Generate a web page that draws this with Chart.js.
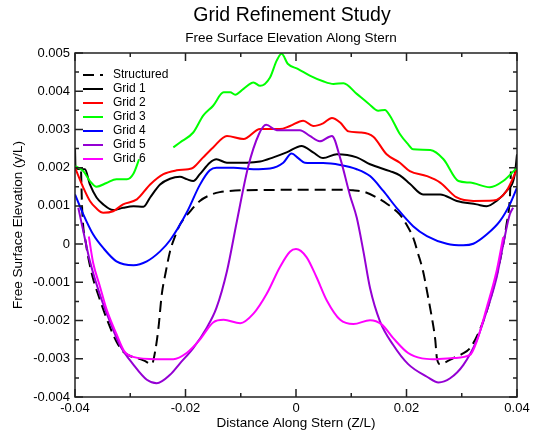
<!DOCTYPE html>
<html>
<head>
<meta charset="utf-8">
<title>Grid Refinement Study</title>
<script src="https://cdn.jsdelivr.net/npm/chart.js@4.4.0/dist/chart.umd.min.js"></script>
<style>
  html, body { margin: 0; padding: 0; background: #fff; }
  #wrap { width: 534px; height: 435px; }
</style>
</head>
<body>
<div id="wrap"><canvas id="elevChart" width="534" height="435"></canvas></div>
<script>
// free surface elevation along the stern, [Z/L, y/L]
const structured = [
  [-0.0389, 0.0019], [-0.0387, 0.0009], [-0.0380, 0.0000], [-0.0370, -0.00075], [-0.0355, -0.00145],
  [-0.0340, -0.00205], [-0.0325, -0.00255], [-0.0313, -0.00281], [-0.0300, -0.00293], [-0.0288, -0.00298],
  [-0.0275, -0.00305], [-0.0261, -0.00314], [-0.0255, -0.00281], [-0.0249, -0.0022], [-0.0243, -0.00132],
  [-0.0236, -0.00075], [-0.0228, -0.00019], [-0.0219, 0.0002], [-0.0210, 0.00051], [-0.0192, 0.00085],
  [-0.0174, 0.00113], [-0.0156, 0.00128], [-0.0138, 0.00136], [-0.0110, 0.0014], [-0.0089, 0.00141],
  [0.0000, 0.00142], [0.0089, 0.00142], [0.0103, 0.00141], [0.0125, 0.00136], [0.0146, 0.00122],
  [0.0165, 0.00105], [0.0182, 0.00086], [0.0191, 0.00072], [0.0200, 0.00051], [0.0212, 0.00017],
  [0.0221, -0.00025], [0.0230, -0.00071], [0.0238, -0.0013], [0.0246, -0.00193], [0.0252, -0.0025],
  [0.0255, -0.00298], [0.0261, -0.00314], [0.0272, -0.00308], [0.0285, -0.00298], [0.0300, -0.00288],
  [0.0315, -0.00272], [0.0331, -0.0023], [0.0345, -0.00176], [0.0358, -0.0011], [0.0369, -0.00045],
  [0.0381, 0.00051], [0.0387, 0.0012], [0.0389, 0.0019]
];

const grid1 = [
  [-0.0400, 0.0025], [-0.0399, 0.00198], [-0.0382, 0.00196], [-0.0373, 0.00156], [-0.0361, 0.00122],
  [-0.0349, 0.00104], [-0.0331, 0.00089], [-0.0313, 0.00095], [-0.0294, 0.00099], [-0.0276, 0.00098],
  [-0.0264, 0.00122], [-0.0246, 0.00156], [-0.0228, 0.00171], [-0.0210, 0.00176], [-0.0198, 0.0017],
  [-0.0186, 0.00165], [-0.0174, 0.00183], [-0.0156, 0.00213], [-0.0144, 0.00222], [-0.0125, 0.00213],
  [-0.0089, 0.00213], [-0.0065, 0.00216], [-0.0041, 0.00227], [-0.0017, 0.0024], [0.0010, 0.00257],
  [0.0031, 0.0024], [0.0049, 0.00225], [0.0074, 0.00235], [0.0110, 0.00227], [0.0134, 0.00209],
  [0.0170, 0.00191], [0.0188, 0.0018], [0.0206, 0.00158], [0.0230, 0.0013], [0.0261, 0.0013],
  [0.0291, 0.00113], [0.0327, 0.00104], [0.0345, 0.00099], [0.0363, 0.00113], [0.0381, 0.00139],
  [0.0396, 0.00183], [0.0400, 0.00235]
];

const grid2 = [
  [-0.0400, 0.0020], [-0.0385, 0.00148], [-0.0373, 0.00113], [-0.0361, 0.00093], [-0.0349, 0.00082],
  [-0.0331, 0.00086], [-0.0313, 0.00104], [-0.0288, 0.00117], [-0.0264, 0.00156], [-0.0240, 0.00183],
  [-0.0216, 0.00193], [-0.0195, 0.00196], [-0.0186, 0.0020], [-0.0168, 0.00227], [-0.0150, 0.00253],
  [-0.0125, 0.00283], [-0.0095, 0.00275], [-0.0065, 0.00301], [-0.0029, 0.00301], [-0.0011, 0.00309],
  [0.0013, 0.00323], [0.0031, 0.00309], [0.0049, 0.00316], [0.0065, 0.0033], [0.0080, 0.00318],
  [0.0095, 0.00295], [0.0116, 0.00292], [0.0140, 0.00281], [0.0164, 0.00235], [0.0188, 0.00213],
  [0.0206, 0.00191], [0.0237, 0.00178], [0.0261, 0.00161], [0.0291, 0.00122], [0.0321, 0.00113],
  [0.0357, 0.00114], [0.0381, 0.00139], [0.0400, 0.00196]
];

// grid 3 has no data between the two stretches
const grid3 = [
  [-0.0400, 0.00205], [-0.0385, 0.00191], [-0.0373, 0.00165], [-0.0361, 0.0015], [-0.0343, 0.0016],
  [-0.0325, 0.0017], [-0.0306, 0.0017], [-0.0294, 0.00185], [-0.0284, 0.00222], [-0.0250, null],
  [-0.0222, 0.00253], [-0.0210, 0.00266], [-0.0186, 0.00292], [-0.0168, 0.00336], [-0.0150, 0.00362],
  [-0.0131, 0.00397], [-0.0119, 0.00397], [-0.0110, 0.00391], [-0.0095, 0.00406], [-0.0077, 0.00423],
  [-0.0065, 0.00414], [-0.0047, 0.00436], [-0.0035, 0.0048], [-0.0026, 0.00498], [-0.0015, 0.00472],
  [0.0004, 0.00458], [0.0025, 0.00441], [0.0049, 0.00426], [0.0068, 0.00419], [0.0086, 0.00421],
  [0.0110, 0.00393], [0.0131, 0.00368], [0.0149, 0.00349], [0.0161, 0.00351], [0.0170, 0.00336],
  [0.0188, 0.00288], [0.0203, 0.00261], [0.0212, 0.00248], [0.0243, 0.00246], [0.0267, 0.00222],
  [0.0294, 0.00165], [0.0315, 0.00161], [0.0351, 0.00149], [0.0375, 0.00165], [0.0400, 0.0020]
];

const grid4 = [
  [-0.0400, 0.0013], [-0.0385, 0.00078], [-0.0367, 0.00025], [-0.0349, -0.0001], [-0.0325, -0.00045],
  [-0.0294, -0.00055], [-0.0270, -0.00045], [-0.0246, -0.00019], [-0.0228, 0.0001], [-0.0198, 0.00082],
  [-0.0174, 0.00155], [-0.0156, 0.00193], [-0.0144, 0.0020], [-0.0113, 0.0020], [-0.0077, 0.00196],
  [-0.0047, 0.00198], [-0.0023, 0.00213], [-0.0008, 0.00237], [0.0004, 0.00225], [0.0016, 0.00213],
  [0.0049, 0.00212], [0.0080, 0.00207], [0.0110, 0.00196], [0.0134, 0.00178], [0.0158, 0.00139],
  [0.0182, 0.00095], [0.0212, 0.00047], [0.0237, 0.00021], [0.0273, 0.00001], [0.0303, -0.00003],
  [0.0321, 0.00001], [0.0345, 0.00025], [0.0369, 0.0006], [0.0387, 0.00104], [0.0400, 0.00148]
];

const grid5 = [
  [-0.0394, 0.00095], [-0.0385, 0.00034], [-0.0373, -0.00045], [-0.0355, -0.00132], [-0.0337, -0.00202],
  [-0.0319, -0.00264], [-0.0294, -0.00316], [-0.0270, -0.00355], [-0.0252, -0.00364], [-0.0228, -0.00342],
  [-0.0210, -0.00312], [-0.0186, -0.00272], [-0.0162, -0.0022], [-0.0144, -0.00167], [-0.0125, -0.00071],
  [-0.0107, 0.0006], [-0.0087, 0.0020], [-0.0067, 0.00288], [-0.0054, 0.00312], [-0.0035, 0.00298],
  [-0.0011, 0.00298], [0.0007, 0.00298], [0.0025, 0.00283], [0.0043, 0.00269], [0.0065, 0.00283],
  [0.0080, 0.00225], [0.0098, 0.00126], [0.0110, 0.00069], [0.0122, -0.00019], [0.0134, -0.00115],
  [0.0152, -0.00202], [0.0176, -0.00264], [0.0203, -0.00314], [0.0237, -0.00347], [0.0258, -0.00362],
  [0.0279, -0.00351], [0.0303, -0.00316], [0.0327, -0.00252], [0.0345, -0.00176], [0.0363, -0.00088],
  [0.0375, -0.00001], [0.0387, 0.00078], [0.0393, 0.00095]
];

const grid6 = [
  [-0.0375, 0.0002], [-0.0367, -0.0005], [-0.0355, -0.0011], [-0.0343, -0.0017], [-0.0325, -0.00235],
  [-0.0311, -0.0028], [-0.0295, -0.00295], [-0.0252, -0.00301], [-0.0222, -0.00301], [-0.0198, -0.00285],
  [-0.0174, -0.0025], [-0.0150, -0.00205], [-0.0131, -0.00198], [-0.0101, -0.00207], [-0.0077, -0.00182],
  [-0.0053, -0.0013], [-0.0029, -0.0006], [-0.0011, -0.0002], [0.0000, -0.00013], [0.0019, -0.00034],
  [0.0037, -0.00086], [0.0056, -0.00148], [0.0080, -0.00198], [0.0104, -0.00209], [0.0134, -0.00199],
  [0.0155, -0.0021], [0.0176, -0.00246], [0.0203, -0.00285], [0.0228, -0.00299], [0.0248, -0.00301],
  [0.0285, -0.00298], [0.0315, -0.0029], [0.0327, -0.00255], [0.0345, -0.00167], [0.0363, -0.00071],
  [0.0375, 0.00018]
];

const seriesNames = ['Structured', 'Grid 1', 'Grid 2', 'Grid 3', 'Grid 4', 'Grid 5', 'Grid 6'];
const seriesColors = ['#000000', '#000000', '#ff0000', '#00ff00', '#0000ff', '#9400d3', '#ff00ff'];

const xTickLabels = ['-0.04', '-0.02', '0', '0.02', '0.04'];
const yTickLabels = ['-0.004', '-0.003', '-0.002', '-0.001', '0', '0.001', '0.002', '0.003', '0.004', '0.005'];

const FONT = "'Liberation Sans', Arial, Helvetica, sans-serif";

function fmt(v) {
  return String(parseFloat(v.toFixed(4)));
}

const allSeries = [structured, grid1, grid2, grid3, grid4, grid5, grid6];
const datasets = allSeries.map((pts, i) => ({
  label: seriesNames[i],
  data: pts.map(p => ({ x: p[0], y: p[1] })),
  borderColor: seriesColors[i],
  borderWidth: 2,
  borderDash: i === 0 ? [11, 6] : [],
  pointRadius: 0,
  fill: false,
  spanGaps: false,
  cubicInterpolationMode: 'monotone',
  order: allSeries.length - i   // later grids painted on top
}));

// box round the plot with inward ticks on all four sides
const frameTicks = {
  id: 'frameTicks',
  afterDatasetsDraw(chart) {
    const { ctx, chartArea: a, scales: { x, y } } = chart;
    ctx.save();
    ctx.strokeStyle = '#222';
    ctx.lineWidth = 1.5;
    ctx.setLineDash([]);
    ctx.beginPath();
    x.ticks.forEach(t => {
      const px = x.getPixelForValue(t.value);
      const len = xTickLabels.includes(fmt(t.value)) ? 8 : 4;
      ctx.moveTo(px, a.bottom); ctx.lineTo(px, a.bottom - len);
      ctx.moveTo(px, a.top); ctx.lineTo(px, a.top + len);
    });
    y.ticks.forEach(t => {
      const py = y.getPixelForValue(t.value);
      const len = yTickLabels.includes(fmt(t.value)) ? 8 : 4;
      ctx.moveTo(a.left, py); ctx.lineTo(a.left + len, py);
      ctx.moveTo(a.right, py); ctx.lineTo(a.right - len, py);
    });
    ctx.stroke();
    ctx.strokeRect(a.left, a.top, a.right - a.left, a.bottom - a.top);
    ctx.restore();
  }
};

// legend in the upper left corner of the plot, plus the two title lines
const legendAndTitles = {
  id: 'legendAndTitles',
  afterDraw(chart) {
    const { ctx, chartArea: a } = chart;
    ctx.save();
    ctx.fillStyle = '#000';
    ctx.textAlign = 'center';
    ctx.textBaseline = 'middle';
    ctx.font = '19.5px ' + FONT;
    ctx.fillText('Grid Refinement Study', 292, 16);
    ctx.font = '13.5px ' + FONT;
    ctx.fillText('Free Surface Elevation Along Stern', 291, 38);

    ctx.textAlign = 'left';
    ctx.font = '12px ' + FONT;
    chart.data.datasets.forEach((ds, i) => {
      const yy = 75 + i * 14;
      ctx.strokeStyle = ds.borderColor;
      ctx.lineWidth = 2;
      ctx.setLineDash(ds.borderDash);
      ctx.beginPath();
      ctx.moveTo(a.left + 8, yy);
      ctx.lineTo(a.left + 28, yy);
      ctx.stroke();
      ctx.fillText(ds.label, a.left + 38, yy);
    });
    ctx.restore();
  }
};

new Chart(document.getElementById('elevChart'), {
  type: 'line',
  data: { datasets },
  options: {
    responsive: false,
    animation: false,
    devicePixelRatio: 1,
    layout: { padding: { top: 53, right: 17, bottom: 0, left: 0 } },
    plugins: {
      legend: { display: false },
      tooltip: { enabled: false },
      title: { display: false }
    },
    scales: {
      x: {
        type: 'linear',
        min: -0.04,
        max: 0.04,
        grid: { display: false, drawTicks: false },
        border: { display: false },
        ticks: {
          stepSize: 0.01,
          autoSkip: false,
          maxRotation: 0,
          padding: 4,
          color: '#000',
          font: { family: FONT, size: 13 },
          callback: v => xTickLabels.includes(fmt(v)) ? fmt(v) : ''
        },
        title: {
          display: true,
          text: 'Distance Along Stern (Z/L)',
          color: '#000',
          font: { family: FONT, size: 13.5 },
          padding: { top: 0, bottom: 4 }
        },
        afterFit: s => { s.height = 38; }
      },
      y: {
        min: -0.004,
        max: 0.005,
        grid: { display: false, drawTicks: false },
        border: { display: false },
        ticks: {
          stepSize: 0.0005,
          autoSkip: false,
          padding: 5,
          color: '#000',
          font: { family: FONT, size: 13 },
          callback: v => yTickLabels.includes(fmt(v)) ? fmt(v) : ''
        },
        title: {
          display: true,
          text: 'Free Surface Elevation (y/L)',
          color: '#000',
          font: { family: FONT, size: 13.5 },
          padding: { top: 10, bottom: 0 }
        },
        afterFit: s => { s.width = 75; }
      }
    }
  },
  plugins: [frameTicks, legendAndTitles]
});
</script>
</body>
</html>
